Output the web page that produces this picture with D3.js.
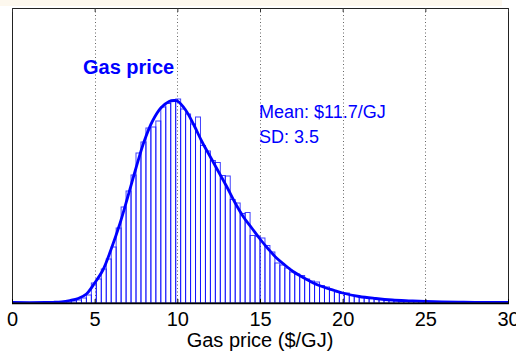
<!DOCTYPE html>
<html>
<head>
<meta charset="utf-8">
<script src="https://cdn.jsdelivr.net/npm/d3@7"></script>
<style>
  html, body { margin: 0; padding: 0; background: #fff; }
  svg { display: block; }
  text { font-family: "Liberation Sans", Arial, sans-serif; }
</style>
</head>
<body>
<svg id="chart" width="516" height="354"></svg>
<script>
// ---- data ----
const binWidth = 0.3;
// histogram bin heights (relative units), bins start at 0 with width 0.3
const binValues = [
  0,0,0,0,0,0,0,0,0,0,
  0.5,1,2,3,5,8,20,24,34,44,
  56,75,96,112,128,150,161,175,176,182,
  196,199.5,201.5,204,194,189,179,186,157.5,152,
  142.5,140.5,127.5,127,103.5,100,89.5,90.5,67.5,67,
  65,57.5,51,40,38,35,31,29,27.5,24,
  22,21,17.5,16,13,11,9.5,10,7.5,7,
  6,5.5,5,4.5,4,3.5,3,3,2.5,2.5,
  2,2,1.5,1.5,1.5,1,1,1,1,0.5,
  0.5,0.5,0.5,0.5,0,0,0,0,0,0
];
// fitted curve points
const curveX = [0,2,2.5,3,3.5,4,4.5,5,5.5,6,6.5,7,7.5,8,8.5,9,9.5,9.8,10,10.5,11,11.5,12,12.5,13,13.5,14,14.5,15,15.5,16,16.5,17,17.5,18,18.5,19,19.5,20,21,22,23,24,25,26,27,28,30];
const curveY = [0.5,0.5,0.7,1.2,2.5,4.5,9,20,33,54,78,106,135,162,182,195,201.5,202.5,202,193,178,161,146,131,116,100,86,75,64,54,45,38,31.5,26.5,22,18,15,12.5,10,6.5,4.5,3,2.2,1.6,1.2,0.9,0.7,0.5];
const xTicks = [0,5,10,15,20,25,30];
const gridTicks = [5,10,15,20,25];
const title = "Gas price";
const statsLines = ["Mean: $11.7/GJ", "SD: 3.5"];
const xLabel = "Gas price ($/GJ)";

// ---- layout ----
const svg = d3.select("#chart");
const L = 12, R = 508, T = 8, B = 303;
const x = d3.scaleLinear().domain([0, 30]).range([L, R]);
const y = d3.scaleLinear().domain([0, 295]).range([B, T]);
const blue = "#0000ff";

// faint top strip (figure background)
svg.append("rect").attr("x", 0).attr("y", 0).attr("width", 502).attr("height", 6).attr("fill", "#fdf8ee");

// grid lines
svg.append("g").selectAll("line").data(gridTicks).join("line")
  .attr("x1", d => Math.round(x(d)) + 0.5).attr("x2", d => Math.round(x(d)) + 0.5)
  .attr("y1", T).attr("y2", B)
  .attr("stroke", "#666").attr("stroke-width", 1).attr("stroke-dasharray", "1,2.5");

// histogram bars
const bins = binValues.map((v, i) => ({x0: i * binWidth, x1: (i + 1) * binWidth, v}));
svg.append("g").selectAll("rect").data(bins.filter(d => d.v > 0)).join("rect")
  .attr("x", d => x(d.x0))
  .attr("width", d => x(d.x1) - x(d.x0))
  .attr("y", d => y(d.v))
  .attr("height", d => y(0) - y(d.v))
  .attr("fill", "none")
  .attr("stroke", blue).attr("stroke-width", 1).attr("stroke-opacity", 0.75);

// fitted curve
const pts = curveX.map((cx, i) => [cx, curveY[i]]);
svg.append("path").datum(pts)
  .attr("d", d3.line().x(d => x(d[0])).y(d => y(d[1])).curve(d3.curveCatmullRom))
  .attr("fill", "none").attr("stroke", blue).attr("stroke-width", 2.8)
  .attr("stroke-linejoin", "round");

// axis box
svg.append("rect").attr("x", L + 0.5).attr("y", T + 0.5)
  .attr("width", R - L).attr("height", B - T - 0.5)
  .attr("fill", "none").attr("stroke", "#222").attr("stroke-width", 1);
svg.append("line").attr("x1", L).attr("x2", R + 1).attr("y1", B + 0.5).attr("y2", B + 0.5)
  .attr("stroke", "#000").attr("stroke-width", 1.5);

// inward ticks (bottom and top)
const xAxis = d3.axisBottom(x).tickValues(xTicks).tickSize(-4).tickPadding(9).tickFormat(d3.format("d"));
const gx = svg.append("g").attr("transform", `translate(0,${B})`).call(xAxis);
gx.select(".domain").remove();
gx.selectAll(".tick line").attr("stroke", "#000");
gx.selectAll(".tick text").attr("font-size", 20).attr("fill", "#000")
  .attr("font-family", "'Liberation Sans', Arial, sans-serif");
const xTop = d3.axisTop(x).tickValues(xTicks).tickSize(-4).tickFormat("");
const gt = svg.append("g").attr("transform", `translate(0,${T})`).call(xTop);
gt.select(".domain").remove();
gt.selectAll(".tick line").attr("stroke", "#333");

// texts
svg.append("text").attr("x", 83).attr("y", 74).text(title)
  .attr("font-size", 20).attr("font-weight", "bold").attr("fill", blue);
svg.append("g").selectAll("text").data(statsLines).join("text")
  .attr("x", 259).attr("y", (d, i) => 118 + i * 25).text(d => d)
  .attr("font-size", 18).attr("fill", blue);
svg.append("text").attr("x", (L + R) / 2).attr("y", 347).attr("text-anchor", "middle")
  .text(xLabel).attr("font-size", 20).attr("fill", "#000");
</script>
</body>
</html>
